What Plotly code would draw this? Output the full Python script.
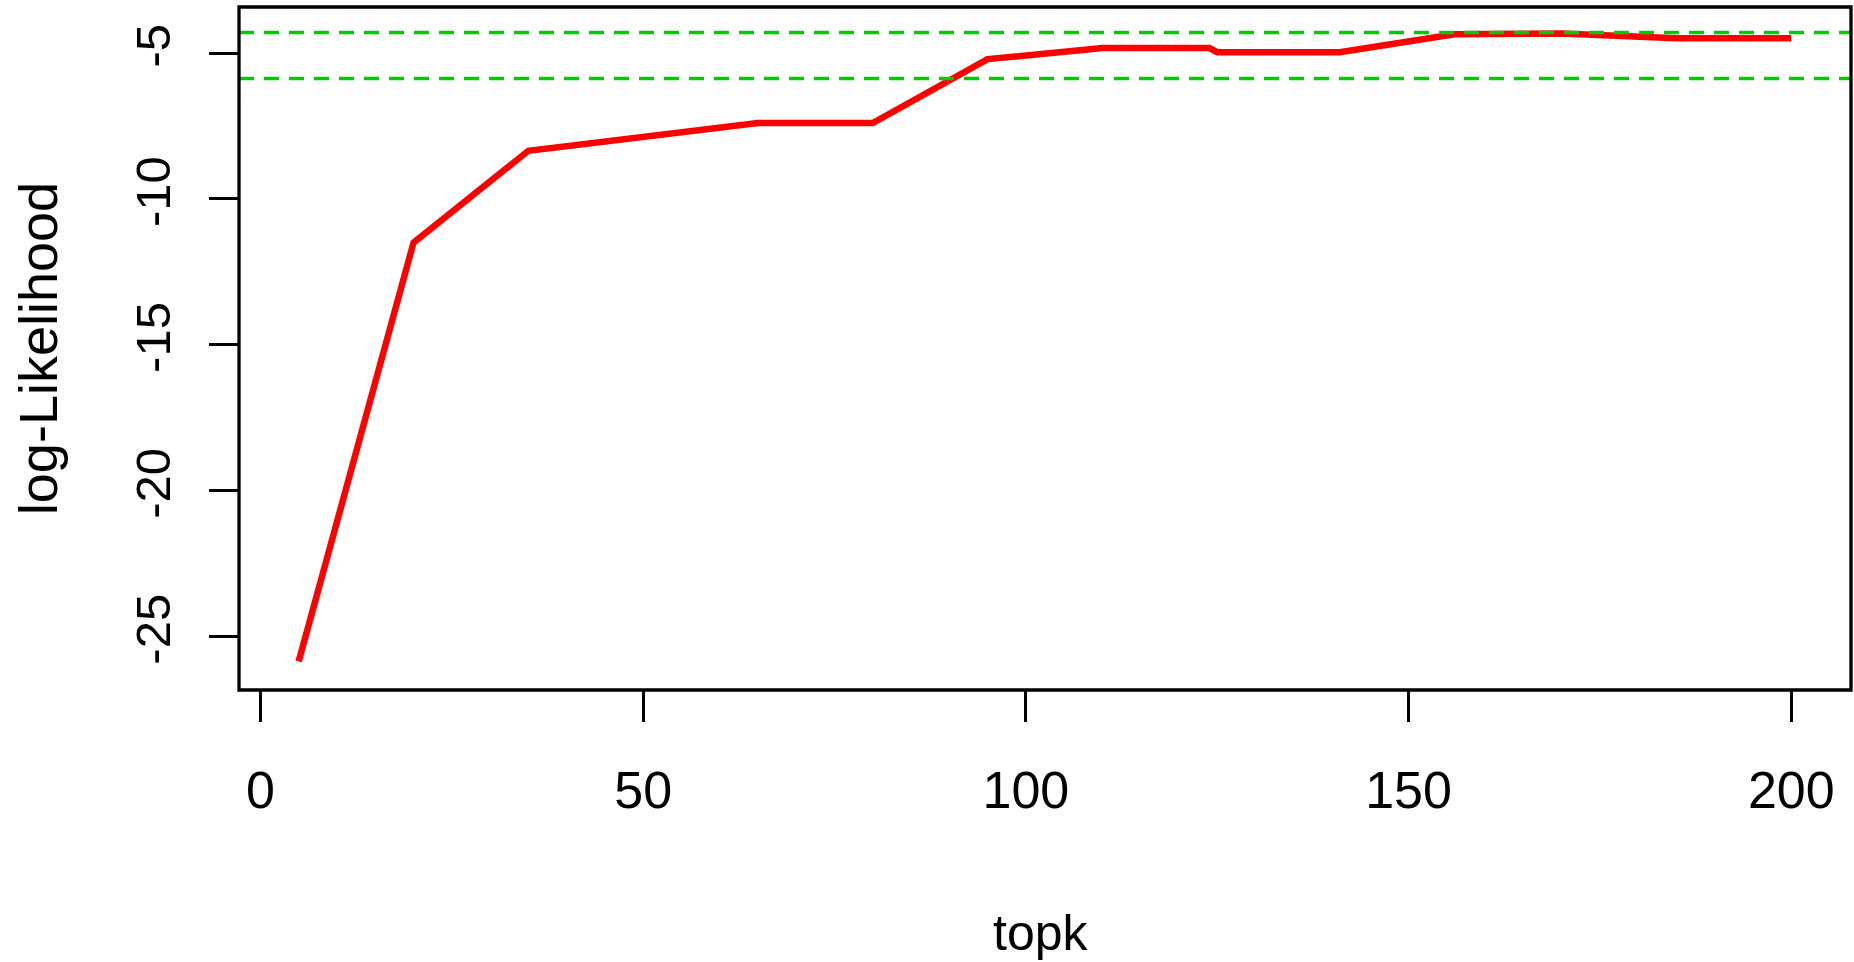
import plotly.graph_objects as go

# ---- data ----
topk = [5, 20, 35, 50, 65, 80, 95, 110, 124, 125, 141, 156, 170, 185, 200]
loglik = [-25.85, -11.5, -8.35, -7.88, -7.40, -7.40, -5.21, -4.83, -4.83,
          -4.97, -4.97, -4.36, -4.33, -4.49, -4.49]
ref_lines = [-4.294, -5.871]

x_ticks = [0, 50, 100, 150, 200]
x_tick_text = ["0", "50", "100", "150", "200"]
y_ticks = [-5, -10, -15, -20, -25]
y_tick_text = ["-5", "-10", "-15", "-20", "-25"]

x_range = [-2.8, 207.8]
y_range = [-26.83, -3.423]

fig = go.Figure()
fig.add_trace(go.Scatter(
    x=topk, y=loglik, mode="lines",
    line=dict(color="#FF0000", width=6.5),
    showlegend=False, hoverinfo="x+y",
))

for yv in ref_lines:
    fig.add_shape(type="line", xref="paper", x0=0, x1=1, yref="y", y0=yv, y1=yv,
                  line=dict(color="#00CD00", width=3.5, dash="15px,10px"), layer="above")

# frame box
fig.add_shape(type="rect", xref="paper", yref="paper", x0=0, x1=1, y0=0, y1=1,
              line=dict(color="black", width=3.3), layer="above")

fig.update_layout(
    width=1854, height=962, autosize=False,
    margin=dict(l=239, r=3, t=7, b=272, pad=0),
    paper_bgcolor="white", plot_bgcolor="white",
    font=dict(family="Liberation Sans, Arial, sans-serif", color="black"),
    xaxis=dict(
        range=x_range, tickmode="array", tickvals=x_ticks, ticktext=x_tick_text,
        ticks="outside", ticklen=31, tickwidth=3, tickcolor="black",
        showgrid=False, zeroline=False, showline=False,
        tickfont=dict(family="Liberation Sans, Arial", size=52, color="black"),
        ticklabelstandoff=24,
    ),
    yaxis=dict(
        range=y_range, tickmode="array", tickvals=y_ticks, ticktext=y_tick_text,
        ticks="outside", ticklen=29, tickwidth=3, tickcolor="black",
        showgrid=False, zeroline=False, showline=False,
        tickangle=-90,
        tickfont=dict(family="Liberation Sans, Arial", size=49, color="black"),
        ticklabelstandoff=19,
    ),
    annotations=[
        dict(text="log-Likelihood", xref="paper", yref="paper", x=-0.1249, y=0.5,
             xanchor="center", yanchor="middle", textangle=-90, showarrow=False,
             font=dict(family="Liberation Sans, Arial", size=54, color="black")),
        dict(text="topk", xref="paper", yref="paper", x=0.4975, y=-0.356,
             xanchor="center", yanchor="middle", showarrow=False,
             font=dict(family="Liberation Sans, Arial", size=50, color="black")),
    ],
)

fig.write_html("out.html")
